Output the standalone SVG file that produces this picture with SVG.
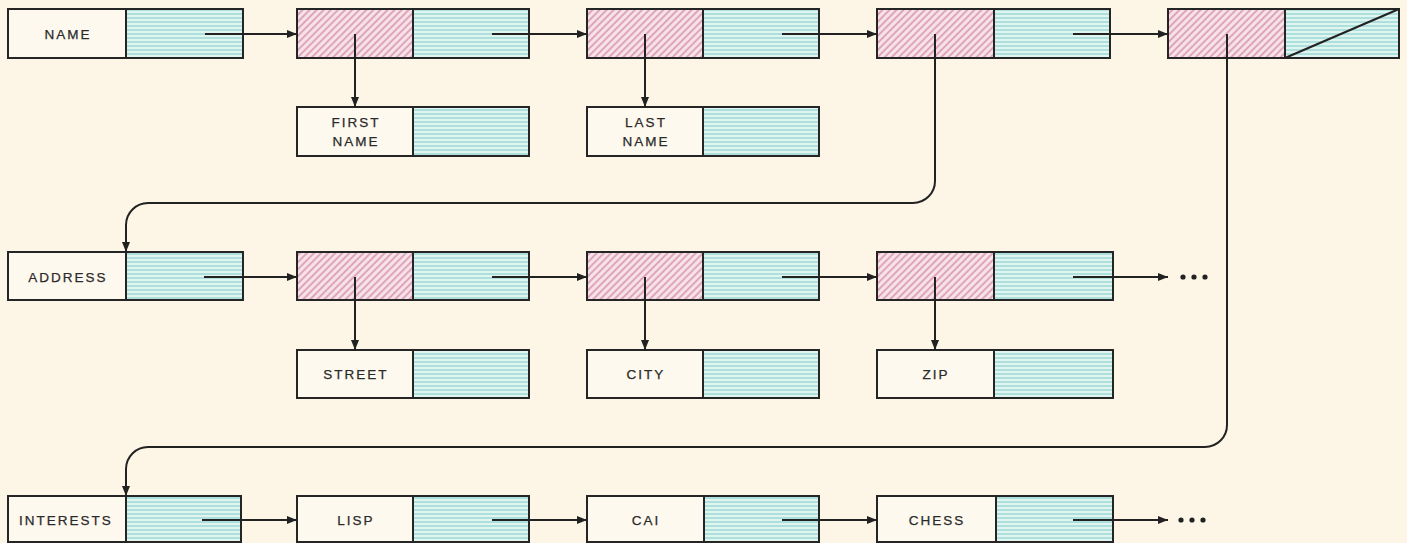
<svg xmlns="http://www.w3.org/2000/svg" width="1407" height="543" viewBox="0 0 1407 543">
<defs>
<pattern id="hatch" patternUnits="userSpaceOnUse" width="5" height="5" patternTransform="rotate(45)">
<rect width="5" height="5" fill="#f6e2e8"/>
<line x1="1" y1="0" x2="1" y2="5" stroke="#c96a8d" stroke-width="1"/>
</pattern>
<pattern id="lines" patternUnits="userSpaceOnUse" width="6" height="4">
<rect width="6" height="4" fill="#e0f4f0"/>
<line x1="0" y1="2" x2="6" y2="2" stroke="#84d1cc" stroke-width="1.1"/>
</pattern>
<marker id="arr" markerUnits="userSpaceOnUse" markerWidth="11" markerHeight="8" refX="10" refY="4" orient="auto">
<path d="M0,0 L10,4 L0,8 Z" fill="#222"/>
</marker>
<style>
.box{stroke:#252525;stroke-width:2}
.lab{fill:#fef9ee}
.ptr{fill:url(#hatch)}
.dat{fill:url(#lines)}
.t{font-family:"Liberation Sans",Arial,sans-serif;font-size:13.5px;letter-spacing:2px;fill:#2a2a2a;text-anchor:middle;stroke:#2a2a2a;stroke-width:0.25}
.c{fill:none;stroke:#222;stroke-width:2}
.a{marker-end:url(#arr)}
</style>
</defs>
<rect width="1407" height="543" fill="#fdf6e6"/>

<g id="node-name"><rect class="box lab" x="8" y="9" width="118" height="49"/><rect class="box dat" x="126" y="9" width="117" height="49"/><text class="t" x="68" y="39">NAME</text></g>
<g id="node-p1"><rect class="box ptr" x="297" y="9" width="116" height="49"/><rect class="box dat" x="413" y="9" width="116" height="49"/></g>
<g id="node-p2"><rect class="box ptr" x="587" y="9" width="116" height="49"/><rect class="box dat" x="703" y="9" width="116" height="49"/></g>
<g id="node-p3"><rect class="box ptr" x="877" y="9" width="117" height="49"/><rect class="box dat" x="994" y="9" width="116" height="49"/></g>
<g id="node-p4"><rect class="box ptr" x="1168" y="9" width="117" height="49"/><rect class="box dat" x="1285" y="9" width="114" height="49"/><path class="c" d="M1285,58 L1399,9"/></g>
<g id="node-firstname"><rect class="box lab" x="297" y="107" width="116" height="49"/><rect class="box dat" x="413" y="107" width="116" height="49"/><text class="t" x="356" y="127">FIRST</text><text class="t" x="356" y="146">NAME</text></g>
<g id="node-lastname"><rect class="box lab" x="587" y="107" width="116" height="49"/><rect class="box dat" x="703" y="107" width="116" height="49"/><text class="t" x="646" y="127">LAST</text><text class="t" x="646" y="146">NAME</text></g>

<g id="node-address"><rect class="box lab" x="8" y="252" width="118" height="48"/><rect class="box dat" x="126" y="252" width="117" height="48"/><text class="t" x="68" y="282">ADDRESS</text></g>
<g id="node-q1"><rect class="box ptr" x="297" y="252" width="116" height="48"/><rect class="box dat" x="413" y="252" width="116" height="48"/></g>
<g id="node-q2"><rect class="box ptr" x="587" y="252" width="116" height="48"/><rect class="box dat" x="703" y="252" width="116" height="48"/></g>
<g id="node-q3"><rect class="box ptr" x="877" y="252" width="117" height="48"/><rect class="box dat" x="994" y="252" width="119" height="48"/></g>
<g id="node-street"><rect class="box lab" x="297" y="350" width="116" height="48"/><rect class="box dat" x="413" y="350" width="116" height="48"/><text class="t" x="356" y="379">STREET</text></g>
<g id="node-city"><rect class="box lab" x="587" y="350" width="116" height="48"/><rect class="box dat" x="703" y="350" width="116" height="48"/><text class="t" x="646" y="379">CITY</text></g>
<g id="node-zip"><rect class="box lab" x="877" y="350" width="117" height="48"/><rect class="box dat" x="994" y="350" width="119" height="48"/><text class="t" x="936" y="379">ZIP</text></g>

<g id="node-interests"><rect class="box lab" x="8" y="496" width="118" height="46"/><rect class="box dat" x="126" y="496" width="115" height="46"/><text class="t" x="66" y="525">INTERESTS</text></g>
<g id="node-lisp"><rect class="box lab" x="297" y="496" width="116" height="46"/><rect class="box dat" x="413" y="496" width="116" height="46"/><text class="t" x="356" y="525">LISP</text></g>
<g id="node-cai"><rect class="box lab" x="587" y="496" width="117" height="46"/><rect class="box dat" x="704" y="496" width="115" height="46"/><text class="t" x="646" y="525">CAI</text></g>
<g id="node-chess"><rect class="box lab" x="877" y="496" width="119" height="46"/><rect class="box dat" x="996" y="496" width="117" height="46"/><text class="t" x="937" y="525">CHESS</text></g>

<g id="connectors">
<path class="c a" d="M205,34 H297"/>
<path class="c a" d="M492,34 H587"/>
<path class="c a" d="M782,34 H877"/>
<path class="c a" d="M1073,34 H1168"/>
<path class="c a" d="M355,34 V107"/>
<path class="c a" d="M645,34 V107"/>
<path class="c a" d="M935,34 V181 A22,22 0 0 1 913,203 H148 A22,22 0 0 0 126,225 V252"/>
<path class="c a" d="M1227,34 V425 A22,22 0 0 1 1205,447 H148 A22,22 0 0 0 126,469 V496"/>
<path class="c a" d="M204,277 H297"/>
<path class="c a" d="M492,277 H587"/>
<path class="c a" d="M782,277 H877"/>
<path class="c a" d="M1073,277 H1168"/>
<path class="c a" d="M355,277 V350"/>
<path class="c a" d="M645,277 V350"/>
<path class="c a" d="M935,277 V350"/>
<path class="c a" d="M202,520 H297"/>
<path class="c a" d="M492,520 H587"/>
<path class="c a" d="M782,520 H877"/>
<path class="c a" d="M1073,520 H1168"/>
<g fill="#222">
<circle cx="1183" cy="277" r="2.6"/><circle cx="1194" cy="277" r="2.6"/><circle cx="1205" cy="277" r="2.6"/>
<circle cx="1181" cy="520" r="2.6"/><circle cx="1192" cy="520" r="2.6"/><circle cx="1203" cy="520" r="2.6"/>
</g>
</g>
</svg>
